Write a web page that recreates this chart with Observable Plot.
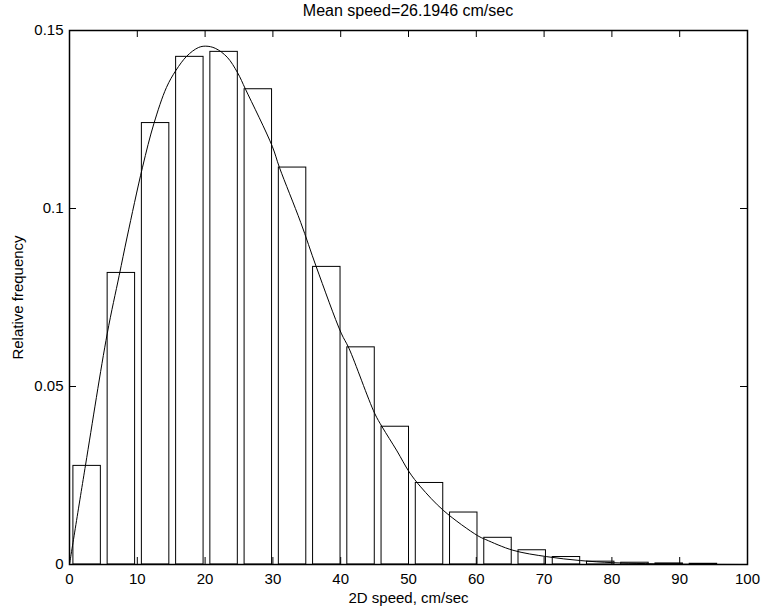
<!DOCTYPE html>
<html><head><meta charset="utf-8">
<script src="https://cdn.jsdelivr.net/npm/d3@7"></script>
<script src="https://cdn.jsdelivr.net/npm/@observablehq/plot@0.6"></script>
<style>
body{margin:0;background:#fff;}
#title{font:16px "Liberation Sans",Arial,sans-serif;height:18px;line-height:18px;padding-top:2px;padding-left:69px;padding-right:15px;text-align:center;color:#000;white-space:nowrap;}
</style></head><body>
<div id="title">Mean speed=26.1946 cm/sec</div>
<div id="chart"></div>
<script>
// histogram bins (bin centre, cm/sec) and relative frequencies
const binCenters = [2.6, 7.65, 12.7, 17.75, 22.8, 27.85, 32.9, 37.95, 43.0, 48.05,
                    53.1, 58.15, 63.2, 68.25, 73.3, 78.35, 83.4, 88.45, 93.5, 98.55];
const relFreq = [0.0277, 0.0819, 0.1240, 0.1426, 0.1440, 0.1335, 0.1115, 0.0836, 0.0610, 0.0387,
                 0.0229, 0.0146, 0.0075, 0.0040, 0.0021, 0.0008, 0.0005, 0.0003, 0.0002, 0];
// fitted curve
const fitSpeed = [0, 2.36, 5.56, 7.33, 8.5, 10.77, 12.44, 14.3, 15.7, 17.3, 19.0, 20.1, 21.5, 23.26,
                  24.8, 25.96, 29.9, 30.97, 34.1, 36.4, 40.07, 41.2, 45.0, 46.1, 48.3, 50.1, 51.8,
                  55.2, 60.2, 61.4, 65.4, 70.4, 75.4, 80.3, 90, 100];
const fitFreq = [0, 0.0279, 0.0648, 0.0812, 0.0920, 0.1116, 0.1238, 0.1340, 0.1388, 0.1428, 0.1452, 0.1456, 0.1450, 0.1425,
                 0.1381, 0.1335, 0.1175, 0.1115, 0.0961, 0.0836, 0.0650, 0.0608, 0.0425, 0.0387, 0.0319, 0.0260, 0.0218,
                 0.0151, 0.0081, 0.0070, 0.0040, 0.0022, 0.0011, 0.0005, 0.0001, 0];
const xTicks = [0, 10, 20, 30, 40, 50, 60, 70, 80, 90, 100];
const xTickLabels = ["0", "10", "20", "30", "40", "50", "60", "70", "80", "90", "100"];
const yTicks = [0, 0.05, 0.1, 0.15];
const yTickLabels = ["0", "0.05", "0.1", "0.15"];

const W = 762, H = 592, mL = 69, mR = 15, mT = 10, mB = 48;
const innerH = H - mT - mB, innerW = W - mL - mR;
const halfW = 2.025;
const bars = binCenters.map((c, i) => ({c, f: relFreq[i]})).filter(d => d.f > 0);
const fit = fitSpeed.map((s, i) => ({s, f: fitFreq[i]}));

const plot = Plot.plot({
  width: W, height: H,
  marginLeft: mL, marginRight: mR, marginTop: mT, marginBottom: mB,
  style: {fontFamily: "'Liberation Sans', Arial, sans-serif", fontSize: "15px", background: "white", color: "black"},
  x: {domain: [0, 100], label: null},
  y: {domain: [0, 0.15], label: null},
  marks: [
    Plot.rect(bars, {x1: d => d.c - halfW, x2: d => d.c + halfW, y1: d => 0, y2: "f", fill: "white", stroke: "black", strokeWidth: 1}),
    Plot.line(fit, {x: "s", y: "f", stroke: "black", strokeWidth: 1, curve: "catmull-rom"}),
    Plot.ruleX(xTicks, {x: d => d, insetTop: innerH - 7, stroke: "black"}),
    Plot.ruleX(xTicks, {x: d => d, insetBottom: innerH - 7, stroke: "black"}),
    Plot.ruleY(yTicks, {y: d => d, insetRight: innerW - 7, stroke: "black"}),
    Plot.ruleY(yTicks, {y: d => d, insetLeft: innerW - 7, stroke: "black"}),
    Plot.frame({stroke: "black", strokeWidth: 1.5}),
    Plot.axisX(xTicks, {tickSize: 0, tickPadding: 9, tickFormat: d => xTickLabels[xTicks.indexOf(d)], label: null}),
    Plot.axisY(yTicks, {tickSize: 0, tickPadding: 6, tickFormat: d => yTickLabels[yTicks.indexOf(d)], label: null}),
    Plot.text(["2D speed, cm/sec"], {text: d => d, frameAnchor: "bottom", lineAnchor: "middle", textAnchor: "middle", dy: 34, fontSize: 15}),
    Plot.text(["Relative frequency"], {text: d => d, frameAnchor: "left", lineAnchor: "middle", textAnchor: "middle", dx: -51, rotate: -90, fontSize: 15})
  ]
});
document.getElementById("chart").appendChild(plot);
</script>
</body></html>
